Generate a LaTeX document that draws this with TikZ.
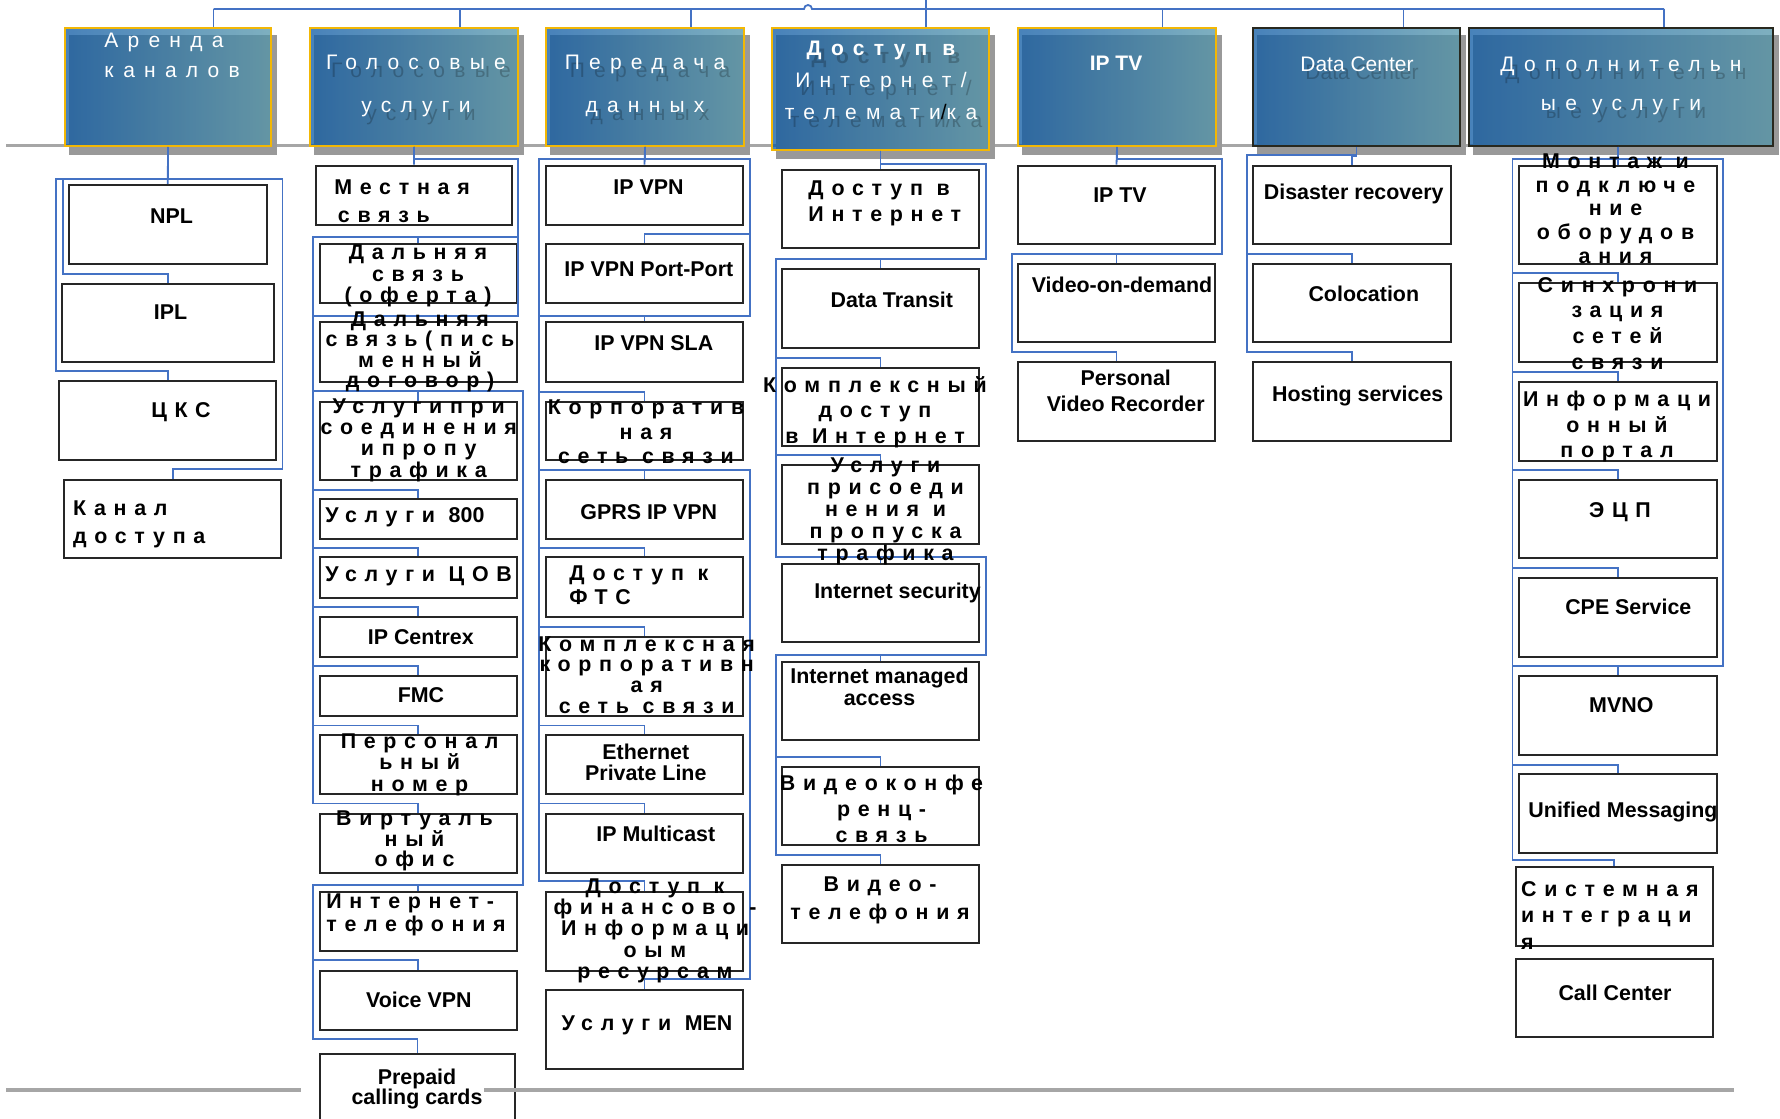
\documentclass[tikz,border=0pt]{standalone}
\usepackage{fontspec}
\setmainfont{Liberation Sans}
\newfontfamily\spc[LetterSpace=36]{Liberation Sans}
\newfontfamily\hspc[LetterSpace=44]{Liberation Sans}
\usepackage{tikz}
\usetikzlibrary{positioning,calc,fit,backgrounds}
\definecolor{linkBlue}{RGB}{68,114,196}
\definecolor{hdrLeft}{RGB}{11,88,163}
\definecolor{hdrRight}{RGB}{83,149,169}
\definecolor{hdrGold}{RGB}{242,183,5}
\definecolor{hdrDark}{RGB}{40,40,30}
\definecolor{ruleGray}{RGB}{166,166,166}
\definecolor{shadeGray}{RGB}{153,153,153}
% service box from corner to corner
\newcommand{\svc}[5]{\node[svcbox, fit={(#2,#3) (#4,#5)}] (#1) {};}
% header box, last argument is the border colour
\newcommand{\hdr}[6]{\node[hdrbox, draw=#6, fit={(#2,#3) (#4,#5)}] (#1) {};}
% header caption with its faint copy below
\newcommand{\htext}[5]{%
  \node[htxt=#4, text=black, text opacity=0.22] (#1-s) at (#2+5,#3+8) {#5};
  \node[htxt=#4] (#1) at (#2,#3) {#5};}

\begin{document}
\begin{tikzpicture}[x=0.5pt, y=-0.5pt,
  svcbox/.style={draw=black!85, line width=1pt, fill=white, inner sep=0pt},
  hdrbox/.style={line width=1pt, left color=hdrLeft, right color=hdrRight, fill opacity=0.75, inner sep=0pt},
  link/.style={draw=linkBlue, line width=0.9pt},
  txt/.style={font=\fontsize{10.7}{#1}\selectfont\bfseries, align=center, inner sep=0pt},
  txt/.default=11,
  cy/.style={font=\fontsize{10.7}{#1}\selectfont\spc\bfseries, align=center, inner sep=0pt},
  cy/.default=11,
  htxt/.style={font=\fontsize{10.5}{#1}\selectfont\hspc, text=white, align=center, inner sep=0pt},
  htxt/.default=15]
  \useasboundingbox (0,0) rectangle (1780,1118);

  % Headers
  \hdr{h1}{65}{28}{271}{146}{hdrGold}
  \hdr{h2}{310}{28}{518}{146}{hdrGold}
  \hdr{h3}{546}{28}{744}{146}{hdrGold}
  \hdr{h4}{772}{28}{989}{150}{hdrGold}
  \hdr{h5}{1018}{28}{1216}{146}{hdrGold}
  \hdr{h6}{1253}{28}{1460}{146}{hdrDark}
  \hdr{h7}{1469}{28}{1773}{146}{hdrDark}
  \begin{scope}[on background layer]
    \draw[ruleGray, line width=1.5pt] (6,146) -- (1776,146);
    \foreach \h in {h1,h2,h3,h4,h5,h6,h7}
      \fill[shadeGray] ($(\h.north west)+(5,8)$) rectangle ($(\h.south east)+(5,8)$);
  \end{scope}

  % Column 1
  \svc{npl}{68.9}{185}{266.7}{264}
  \svc{ipl}{62}{283.7}{274}{362.3}
  \svc{cks}{59.3}{381}{276.3}{460}
  \svc{kanal}{64.3}{480}{281.3}{558.3}
  % Column 2
  \svc{mest}{315.7}{165.7}{512.3}{225}
  \svc{dal1}{320}{244}{516.7}{303.3}
  \svc{dal2}{320}{322.3}{516.7}{381.7}
  \svc{prs}{320}{401.7}{516.7}{480}
  \svc{u800}{320}{499.3}{516.7}{539}
  \svc{cov}{320}{557}{516.7}{598}
  \svc{centrex}{320}{616.7}{516.7}{657.2}
  \svc{fmc}{320}{675.6}{516.7}{716.2}
  \svc{pers}{320}{734.6}{516.7}{794.3}
  \svc{virt}{320}{813.5}{516.7}{872.8}
  \svc{itel}{320}{892}{516.7}{951}
  \svc{vvpn}{320}{970.5}{516.7}{1029.5}
  \svc{prep}{320}{1054}{515}{1125}
  % Column 3
  \svc{ipvpn}{545.7}{165.7}{743.3}{225}
  \svc{pp}{545.7}{244}{743.3}{303.3}
  \svc{sla}{545.7}{322.3}{743.3}{381.7}
  \svc{korp}{545.7}{401.7}{743.3}{460}
  \svc{gprs}{545.7}{480}{743.3}{539}
  \svc{fts}{545.7}{557}{743.3}{617.4}
  \svc{kompl}{545.7}{636.6}{743.3}{715.8}
  \svc{eth}{545.7}{735.4}{743.3}{794.3}
  \svc{mcast}{545.7}{813.5}{743.3}{872.8}
  \svc{fin}{545.7}{892}{743.3}{970.5}
  \svc{men}{545.7}{990.4}{743.3}{1069}
  % Column 4
  \svc{dint}{782}{170}{979}{247.7}
  \svc{dtr}{782}{269.3}{979}{347.7}
  \svc{kdost}{782}{367.7}{979}{446}
  \svc{uprs}{782}{465}{979}{543.8}
  \svc{isec}{782}{563.7}{979}{642.2}
  \svc{ima}{782}{662.4}{979}{739.7}
  \svc{vkonf}{782}{766.5}{979}{845}
  \svc{vtel}{782}{865.3}{979}{943.3}
  % Column 5
  \svc{iptv}{1017.7}{165.7}{1215.3}{244}
  \svc{vod}{1017.7}{264}{1215.3}{342.3}
  \svc{pvr}{1017.7}{362.3}{1215.3}{440.7}
  % Column 6
  \svc{dr}{1253.3}{165.7}{1450.7}{244}
  \svc{colo}{1253.3}{264}{1450.7}{342.3}
  \svc{host}{1253.3}{362.3}{1450.7}{440.7}
  % Column 7
  \svc{mont}{1519.3}{165.7}{1716.7}{264}
  \svc{sync}{1519.3}{283.3}{1716.7}{362.3}
  \svc{info}{1519.3}{381.7}{1716.7}{460.7}
  \svc{ecp}{1519.3}{480}{1716.7}{557.9}
  \svc{cpe}{1519.3}{577.6}{1716.7}{656.7}
  \svc{mvno}{1519.3}{675.5}{1716.7}{755}
  \svc{um}{1519.3}{774.4}{1716.7}{853}
  \svc{sys}{1516}{867}{1712.7}{946.1}
  \svc{cc}{1516}{958.8}{1712.7}{1037.4}

  % Top level links
  \coordinate (root) at (926,0);
  \coordinate (t1) at (213.5,9);
  \coordinate (t2) at (460,9);
  \coordinate (t3) at (691,9);
  \coordinate (t5) at (1162.5,9);
  \coordinate (t6) at (1403.5,9);
  \coordinate (t7) at (1664,9);
  \draw[link] (t1) -- (804,9) arc[start angle=180, end angle=360, radius=4] -- (t7);
  \draw[link] (root) -- (root |- h4.north);
  \foreach \i in {1,2,3,5,6,7}
    \draw[link] (t\i) -- (t\i |- h\i.north);

  % Links column 1
  \draw[link] (h1.south) -- (npl.north);
  \draw[link] (h1.south) |- (63.1,179) -- (63.1,273.7) -| (ipl.north);
  \draw[link] (h1.south) |- (55.9,179) -- (55.9,371) -| (cks.north);
  \draw[link] (h1.south) |- (282.4,179) -- (282.4,469.3) -| (kanal.north);
  % Links column 2
  \draw[link] (h2.south) -- (mest.north);
  \draw[link] (h2.south) |- (518.3,159) -- (518.3,237.3) -| (dal1.north);
  \draw[link] (h2.south) |- (518.3,159) -- (518.3,315.7) -| (dal2.north);
  \foreach \c/\y in {dal2/315.7, prs/390.7, u800/490, cov/548.3, centrex/607, fmc/666, pers/725.4, virt/803.5}
    \draw[link] (h2.south) |- (518.3,159) |- (313.3,237.3) -- (313.3,\y) -| (\c.north);
  \draw[link] (h2.south) |- (518.3,159) |- (313.3,237.3) |- (523.3,390.7) |- (313.3,884.6) -| (itel.north);
  \foreach \c/\y in {vvpn/960.2, prep/1038.7}
    \draw[link] (h2.south) |- (518.3,159) |- (313.3,237.3) |- (523.3,390.7) |- (313.3,884.6) -- (313.3,\y) -| (\c.north);
  % Links column 3
  \draw[link] (h3.south) -- (ipvpn.north);
  \draw[link] (h3.south) |- (750,159) -- (750,234.3) -| (pp.north);
  \draw[link] (h3.south) |- (750,159) -- (750,315.7) -| (sla.north);
  \foreach \c/\y in {sla/315.7, korp/391.7, gprs/470, fts/548.3, kompl/626.6, eth/725.4, mcast/803.5, fin/881}
    \draw[link] (h3.south) |- (539.3,159) -- (539.3,\y) -| (\c.north);
  \draw[link] (h3.south) |- (539.3,159) |- (750,470) -- (750,978.6) -| (men.north);
  % Links column 4
  \draw[link] (h4.south) -- (dint.north);
  \draw[link] (h4.south) |- (986,164) -- (986,259) -| (dtr.north);
  \foreach \c/\y in {kdost/357.7, uprs/455, isec/556.8}
    \draw[link] (h4.south) |- (986,164) |- (776,259) -- (776,\y) -| (\c.north);
  \draw[link] (h4.south) |- (986,164) |- (776,259) |- (986,556.8) -- (986,654.8) -| (ima.north);
  \foreach \c/\y in {vkonf/757, vtel/854.6}
    \draw[link] (h4.south) |- (986,164) |- (776,259) |- (986,556.8) |- (776,654.8) -- (776,\y) -| (\c.north);
  % Links column 5
  \draw[link] (h5.south) -- (iptv.north);
  \draw[link] (h5.south) |- (1221.7,159) -- (1221.7,254) -| (vod.north);
  \draw[link] (h5.south) |- (1221.7,159) |- (1011.7,254) -- (1011.7,352.3) -| (pvr.north);
  % Links column 6
  \draw[link] (h6.south) -- ++(0,9) -| (dr.north);
  \foreach \c/\y in {colo/254, host/352}
    \draw[link] (h6.south) |- (1247.3,155) -- (1247.3,\y) -| (\c.north);
  % Links column 7
  \coordinate (h7b) at (h7.south -| mont.north);
  \draw[link] (h7b) -- (mont.north);
  \foreach \c/\y in {sync/273.3, info/371.7, ecp/470, cpe/568.2, mvno/665.6, um/765, sys/860}
    \draw[link] (h7b) |- (1512.5,159) -- (1512.5,\y) -| (\c.north);
  \draw[link] (h7b) |- (1722.7,159) -- (1722.7,665.6) -| (mvno.north);

  % Bottom rule
  \draw[ruleGray, line width=2pt] (6,1090) -- (301,1090) (484,1090) -- (1734,1090);

  % Header captions
  \node[htxt=15, anchor=west, align=left] (h1-t) at (104,55) {Аренда\\каналов};
  \htext{h2-t}{416}{85.5}{21.5}{Голосовые\\услуги}
  \htext{h3-t}{645}{85.5}{21.5}{Передача\\данных}
  \htext{h4-t}{881}{80}{16}{\bfseries Доступ в\\Интернет/\\телемати\textcolor{black}{/}ка}
  \node[htxt] (h5-t) at (1116,63) {\rmfamily\bfseries IP TV};
  \htext{h6-t}{1357}{64}{15}{\rmfamily Data Center}
  \htext{h7-t}{1621}{85.5}{19.5}{Дополнительн\\ые услуги}

  % Column 1 texts
  \node[txt] (npl-t) at (171.6,215.7) {NPL};
  \node[txt] (ipl-t) at (170.5,312.5) {IPL};
  \node[cy] (cks-t) at (181,411.7) {ЦКС};
  \node[cy=14, anchor=west, align=left] (kanal-t) at (72.7,524) {Канал\\доступа};
  % Column 2 texts
  \node[cy=14.2, anchor=west, align=left] (mest-t) at (334,201) {Местная\\\,связь};
  \node[cy=10.9] (dal1-t) at (418,276) {Дальняя\\связь\\(оферта)};
  \node[cy=10.2] (dal2-t) at (420,352) {Дальняя\\связь(пись\\менный\\договор)};
  \node[cy=10.7] (prs-t) at (418.7,440) {Услугипри\\соединения\\ипропу\\трафика};
  \node[cy, anchor=west] (u800-t) at (325,517.5) {Услуги \rmfamily 800};
  \node[cy, anchor=west] (cov-t) at (325,576) {Услуги ЦОВ};
  \node[txt] (centrex-t) at (420.8,636.8) {IP Centrex};
  \node[txt] (fmc-t) at (421,695.4) {FMC};
  \node[cy=10.6] (pers-t) at (419.6,764.7) {Персонал\\ьный\\номер};
  \node[cy=10.3] (virt-t) at (414.5,841.1) {Виртуаль\\ный\\офис};
  \node[cy=11.3, anchor=west, align=left] (itel-t) at (326,914.7) {Интернет-\\телефония};
  \node[txt] (vvpn-t) at (418.8,999.6) {Voice VPN};
  \node[txt=10.2] (prep-t) at (417,1089) {Prepaid\\calling cards};
  % Column 3 texts
  \node[txt] (ipvpn-t) at (648.5,186.7) {IP VPN};
  \node[txt] (pp-t) at (648.8,269.5) {IP VPN Port-Port};
  \node[txt] (sla-t) at (653.8,342.8) {IP VPN SLA};
  \node[cy=12.4] (korp-t) at (646,431.8) {Корпоратив\\ная\\сеть связи};
  \node[txt] (gprs-t) at (648.8,512.5) {GPRS IP VPN};
  \node[cy=12, anchor=west, align=left] (fts-t) at (569,585) {Доступ к\\ФТС};
  \node[cy=10.4] (kompl-t) at (646.7,675) {Комплексная\\корпоративн\\ая\\сеть связи};
  \node[txt=10.7] (eth-t) at (645.8,762.3) {Ethernet\\Private Line};
  \node[txt] (mcast-t) at (655.8,834) {IP Multicast};
  \node[cy=10.6] (fin-t) at (655,930.7) {Доступ к\\финансово -\\Информаци\\оым\\ресурсам};
  \node[cy] (men-t) at (647,1025.6) {Услуги \rmfamily MEN};
  % Column 4 texts
  \node[cy=13, anchor=west, align=left] (dint-t) at (808,203.7) {Доступ в\\Интернет};
  \node[txt] (dtr-t) at (891.8,299.5) {Data Transit};
  \node[cy=12.7] (kdost-t) at (875,412.2) {Комплексный\\доступ\\в Интернет};
  \node[cy=11] (uprs-t) at (885.5,511.8) {Услуги\\присоеди\\нения и\\пропуска\\трафика};
  \node[txt] (isec-t) at (897.5,593.4) {Internet security};
  \node[txt=11] (ima-t) at (879.5,686.6) {Internet managed\\access};
  \node[cy=13] (vkonf-t) at (881.5,808.7) {Видеоконфе\\ренц-\\связь};
  \node[cy=14.2] (vtel-t) at (880,900.2) {Видео-\\телефония};
  % Column 5 texts
  \node[txt] (iptv-t) at (1120,194.7) {IP TV};
  \node[txt] (vod-t) at (1122,284.7) {Video-on-demand};
  \node[txt=12.7] (pvr-t) at (1125.7,390.7) {Personal\\Video Recorder};
  % Column 6 texts
  \node[txt] (dr-t) at (1353.7,194.2) {Disaster recovery};
  \node[txt] (colo-t) at (1363.8,294.2) {Colocation};
  \node[txt] (host-t) at (1357.7,395.8) {Hosting services};
  % Column 7 texts
  \node[cy=11.8] (mont-t) at (1615.5,208.7) {Монтаж и\\подключе\\ние\\оборудов\\ания};
  \node[cy=12.9] (sync-t) at (1617.5,323.4) {Синхрони\\зация\\сетей\\связи};
  \node[cy=12.6] (info-t) at (1617,426.5) {Информаци\\онный\\портал};
  \node[cy] (ecp-t) at (1620,511.7) {ЭЦП};
  \node[txt] (cpe-t) at (1628.3,606.4) {CPE Service};
  \node[txt] (mvno-t) at (1621.3,705.6) {MVNO};
  \node[txt] (um-t) at (1623,812) {Unified Messaging};
  \node[cy=13.4, anchor=west, align=left] (sys-t) at (1520.7,915.5) {Системная\\интеграци\\я};
  \node[txt] (cc-t) at (1615,992.5) {Call Center};
\end{tikzpicture}
\end{document}
